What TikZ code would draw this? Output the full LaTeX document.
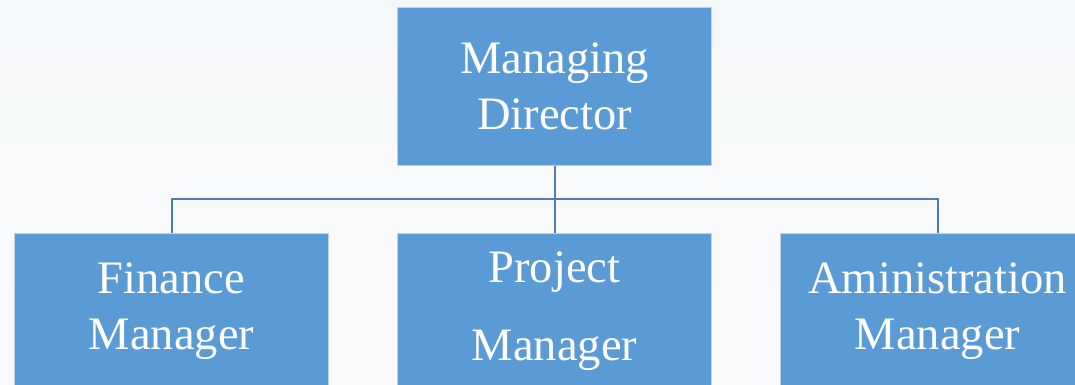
\documentclass[tikz,border=0pt]{standalone}
\usepackage{fontspec}
\setmainfont{Liberation Serif}
\definecolor{boxblue}{HTML}{5B9BD5}
\definecolor{boxedge}{HTML}{B9D3EC}
\definecolor{linkblue}{HTML}{4A7EB0}
\definecolor{bgtop}{HTML}{F5F8FA}
\definecolor{bgbot}{HTML}{F9FAFB}
\begin{document}
\begin{tikzpicture}[x=1pt,y=-1pt,
  orgbox/.style={rectangle,fill=boxblue,draw=boxedge,line width=1pt,
    minimum width=314pt,minimum height=157pt,inner sep=0pt,
    text=white,align=center,font=\fontsize{46.5}{56}\selectfont},
  link/.style={draw=linkblue,line width=2pt}]
\useasboundingbox (0,0) rectangle (1075,385);
\clip (0,0) rectangle (1075,385);
\shade[top color=bgtop,bottom color=bgbot] (0,0) rectangle (1075,385);
\node[orgbox] (md) at (554.5,86.5) {Managing\\Director};
\node[orgbox] (fm) at (171.5,311.5) {Finance\\Manager};
\node[orgbox] (pm) at (554.5,311.5) {Project\\[22pt]Manager};
\node[orgbox] (am) at (937.5,311.5) {Aministration\\Manager};
\coordinate (bus) at (554.5,199);
\draw[link] (md.south) -- (bus);
\draw[link] (bus) -- (pm.north);
\draw[link] (bus) -| (fm.north);
\draw[link] (bus) -| (am.north);
\end{tikzpicture}
\end{document}
